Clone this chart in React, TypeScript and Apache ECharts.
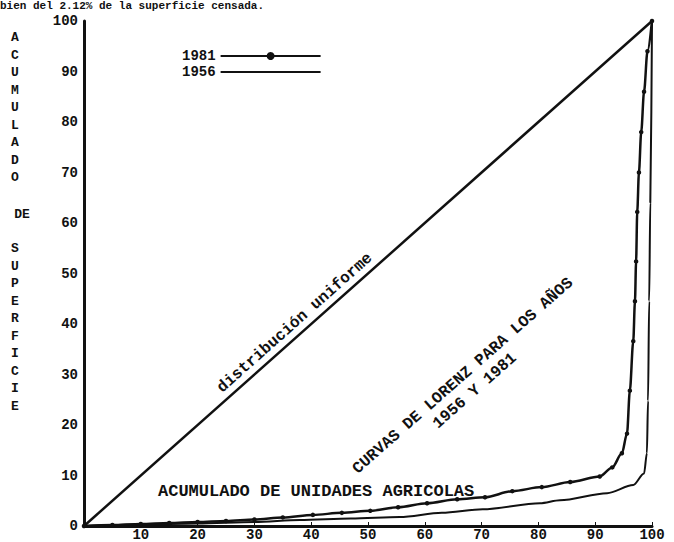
import React, { useEffect, useRef } from "react";
import * as echarts from "echarts";

const uniformX = [0, 100];
const uniformY = [0, 100];

const x1981 = [0, 5, 10, 15, 20, 25, 30, 35, 40.3, 45.4, 50.4, 55.3, 60.4, 65.7, 70.6, 75.4, 80.6, 85.6, 90.8, 93.0, 94.7, 95.6, 96.1, 96.7, 97.0, 97.2, 97.4, 97.7, 98.1, 98.6, 99.2, 100];
const y1981 = [0, 0.2, 0.4, 0.6, 0.8, 1.0, 1.3, 1.7, 2.2, 2.6, 3.0, 3.7, 4.5, 5.3, 5.7, 6.9, 7.7, 8.7, 9.8, 11.6, 14.4, 18.3, 26.8, 36.6, 44.5, 52.4, 62.2, 70, 78, 86, 94, 100];

const x1956 = [0, 10, 20, 30, 38, 47, 55.6, 63, 70.2, 80.3, 83.8, 92.1, 96.7, 98.6, 99.1, 99.3, 99.5, 99.7, 100];
const y1956 = [0, 0.3, 0.5, 0.8, 1.2, 1.5, 1.8, 2.6, 3.3, 4.5, 5.1, 6.5, 8.1, 10.4, 14.4, 24.8, 44.5, 64, 100];

const refLineX = [100.7, 100.7];
const refLineY = [0, 19];

const legendNames = ["1981", "1956"];
const yTitleTop = "A\nC\nU\nM\nU\nL\nA\nD\nO";
const yTitleMid = "DE";
const yTitleBottom = "S\nU\nP\nE\nR\nF\nI\nC\nI\nE";
const xTitle = "ACUMULADO DE UNIDADES AGRICOLAS";
const diagLabel = "distribución uniforme";
const curvesLabel1 = "CURVAS DE LORENZ PARA LOS AÑOS";
const curvesLabel2 = "1956 Y 1981";
const topText = "bien del 2.12% de la superficie censada.";

const MONO = '"Liberation Mono", "DejaVu Sans Mono", monospace';
const INK = "#111";

const zip = (xs: number[], ys: number[]) => xs.map((x, i) => [x, ys[i]]);

export default function App() {
  const ref = useRef<HTMLDivElement>(null);
  useEffect(() => {
    document.body.style.margin = "0";
    const chart = echarts.init(ref.current!, null, { renderer: "svg" });
    const deg = Math.PI / 180;
    chart.setOption({
      animation: false,
      backgroundColor: "#fff",
      grid: { left: 84, right: 22, top: 21, bottom: 16 },
      xAxis: {
        type: "value",
        min: 0,
        max: 100,
        interval: 10,
        splitLine: { show: false },
        axisLine: { show: true, lineStyle: { color: INK, width: 3 } },
        axisTick: { show: true, inside: true, length: 4, lineStyle: { color: INK, width: 1 } },
        axisLabel: {
          showMinLabel: false,
          margin: 2,
          color: INK,
          fontFamily: MONO,
          fontWeight: "bold",
          fontSize: 14,
        },
      },
      yAxis: {
        type: "value",
        min: 0,
        max: 100,
        interval: 10,
        splitLine: { show: false },
        axisLine: { show: true, lineStyle: { color: INK, width: 3 } },
        axisTick: { show: false },
        axisLabel: {
          margin: 6,
          color: INK,
          fontFamily: MONO,
          fontWeight: "bold",
          fontSize: 14,
        },
      },
      legend: {
        data: [
          { name: legendNames[0] },
          { name: legendNames[1], itemStyle: { opacity: 0 } },
        ],
        orient: "vertical",
        left: 177,
        top: 44,
        align: "right",
        itemWidth: 100,
        itemHeight: 10,
        itemGap: 2,
        textStyle: { color: INK, fontFamily: MONO, fontWeight: "bold", fontSize: 14, lineHeight: 12 },
      },
      series: [
        {
          name: "uniforme",
          type: "line",
          data: zip(uniformX, uniformY),
          symbol: "none",
          lineStyle: { color: INK, width: 2.5 },
          silent: true,
        },
        {
          name: "1981",
          type: "line",
          data: zip(x1981, y1981),
          smooth: 0.3,
          smoothMonotone: "x",
          symbol: "circle",
          symbolSize: 4.5,
          itemStyle: { color: INK },
          lineStyle: { color: INK, width: 2.5 },
          silent: true,
        },
        {
          name: "1956",
          type: "line",
          data: zip(x1956, y1956),
          smooth: 0.3,
          smoothMonotone: "x",
          symbol: "none",
          itemStyle: { color: INK },
          lineStyle: { color: INK, width: 2 },
          silent: true,
        },
        {
          name: "ref",
          type: "line",
          data: zip(refLineX, refLineY),
          symbol: "none",
          clip: false,
          lineStyle: { color: INK, width: 1.2, type: [4, 3] },
          silent: true,
        },
      ],
      graphic: [
        {
          type: "text",
          x: 0,
          y: 0,
          style: { text: topText, font: `bold 11px ${MONO}`, lineHeight: 11, fill: INK, verticalAlign: "top" },
        },
        {
          type: "text",
          x: 15,
          y: 29,
          style: { text: yTitleTop, font: `bold 13px ${MONO}`, fill: INK, align: "center", lineHeight: 17.5 },
        },
        {
          type: "text",
          x: 22,
          y: 214,
          style: { text: yTitleMid, font: `bold 13px ${MONO}`, fill: INK, align: "center", verticalAlign: "middle" },
        },
        {
          type: "text",
          x: 15,
          y: 240,
          style: { text: yTitleBottom, font: `bold 13px ${MONO}`, fill: INK, align: "center", lineHeight: 17.5 },
        },
        {
          type: "text",
          x: 158,
          y: 491,
          style: { text: xTitle, font: `bold 17px ${MONO}`, fill: INK, verticalAlign: "middle" },
        },
        {
          type: "text",
          x: 295,
          y: 323,
          rotation: 41.6 * deg,
          style: { text: diagLabel, font: `bold 16px ${MONO}`, fill: INK, align: "center", verticalAlign: "middle" },
        },
        {
          type: "text",
          x: 463,
          y: 376,
          rotation: 41.4 * deg,
          style: { text: curvesLabel1, font: `bold 16px ${MONO}`, fill: INK, align: "center", verticalAlign: "middle" },
        },
        {
          type: "text",
          x: 475,
          y: 391,
          rotation: 41.4 * deg,
          style: { text: curvesLabel2, font: `bold 16px ${MONO}`, fill: INK, align: "center", verticalAlign: "middle" },
        },
      ],
    });
    return () => chart.dispose();
  }, []);
  return <div ref={ref} style={{ width: 674, height: 542 }} />;
}
